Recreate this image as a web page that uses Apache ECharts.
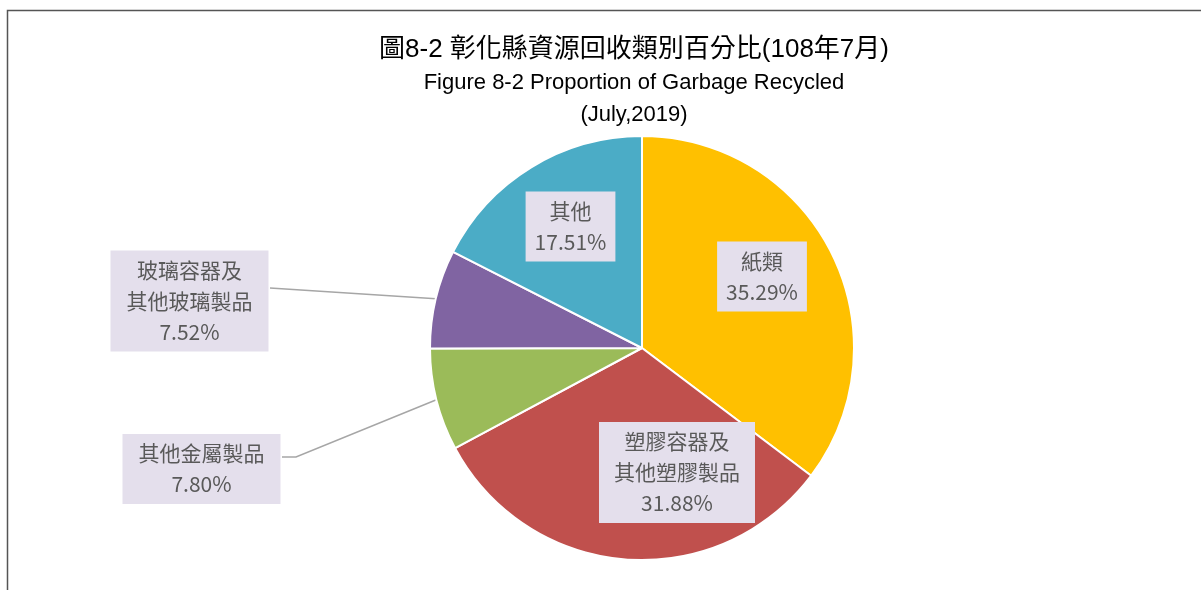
<!DOCTYPE html>
<html>
<head>
<meta charset="utf-8">
<script src="https://cdn.jsdelivr.net/npm/echarts@6/dist/echarts.min.js"></script>
<style>
html,body{margin:0;padding:0;background:#fff;}
#chart{width:1201px;height:590px;}
</style>
</head>
<body>
<div id="chart"></div>
<script>
// ---- data ----
const titleLines = ['圖8-2 彰化縣資源回收類別百分比(108年7月)', 'Figure 8-2 Proportion of Garbage Recycled', '(July,2019)'];
const categories = ['紙類', '塑膠容器及\n其他塑膠製品', '其他金屬製品', '玻璃容器及\n其他玻璃製品', '其他'];
const percents = [35.29, 31.88, 7.80, 7.52, 17.51];
const colors = ['#FFC000', '#C0504D', '#9BBB59', '#8064A2', '#4BACC6'];

// ---- label layout (placement only) ----
const labelCenters = [[762, 276.5], [677, 472.5], [201.5, 469], [189.5, 301], [570.5, 226.5]];
const labelPads = [[4, 9], [4, 15], [4, 16], [4, 16], [4, 9]];
const outsideLabel = [false, false, true, true, false];
const leaderTail = [null, null, [[296, 457], [282, 457]], [[270, 288]], null];

const chart = echarts.init(document.getElementById('chart'));

const pieData = categories.map((name, i) => ({
  name: name,
  value: percents[i],
  itemStyle: { color: colors[i] },
  label: {
    position: outsideLabel[i] ? 'outside' : 'inside',
    padding: labelPads[i]
  },
  labelLine: { show: outsideLabel[i] }
}));

const titleText = '{a|' + titleLines[0] + '}\n{b|' + titleLines[1] + '}\n{b|' + titleLines[2] + '}';

chart.setOption({
  backgroundColor: '#ffffff',
  animation: false,
  graphic: [{
    type: 'rect',
    shape: { x: 7.5, y: 10.5, width: 1400, height: 800 },
    style: { fill: 'none', stroke: '#555555', lineWidth: 1.5 },
    silent: true
  }],
  title: {
    text: titleText,
    left: 629,
    top: 27.5,
    textAlign: 'center',
    textStyle: {
      fontFamily: '"Liberation Sans", "Noto Sans CJK TC", sans-serif',
      fontWeight: 'normal',
      color: '#000000',
      rich: {
        a: {
          fontFamily: '"Liberation Sans", "Noto Sans CJK TC", sans-serif',
          fontSize: 26,
          lineHeight: 34,
          color: '#000000'
        },
        b: {
          fontFamily: '"Liberation Sans", "Noto Sans CJK TC", sans-serif',
          fontSize: 22,
          lineHeight: 32,
          color: '#000000'
        }
      }
    }
  },
  series: [{
    type: 'pie',
    center: [642, 348],
    radius: [0, 212],
    startAngle: 90,
    clockwise: true,
    avoidLabelOverlap: false,
    itemStyle: { borderColor: '#ffffff', borderWidth: 2 },
    label: {
      show: true,
      formatter: p => p.name + '\n' + p.value.toFixed(2) + '%',
      fontFamily: '"Noto Sans CJK TC", sans-serif',
      fontSize: 21,
      lineHeight: 31,
      color: '#595959',
      backgroundColor: '#E4DFEC',
      align: 'center'
    },
    labelLine: {
      show: false,
      lineStyle: { color: '#A6A6A6', width: 1.5 },
      smooth: false
    },
    labelLayout: function (params) {
      const i = params.dataIndex;
      const c = labelCenters[i];
      const res = { x: c[0], y: c[1], align: 'center', verticalAlign: 'middle' };
      if (leaderTail[i] && params.labelLinePoints) {
        res.labelLinePoints = [params.labelLinePoints[0]].concat(leaderTail[i]);
      }
      return res;
    },
    data: pieData
  }]
});
</script>
</body>
</html>
